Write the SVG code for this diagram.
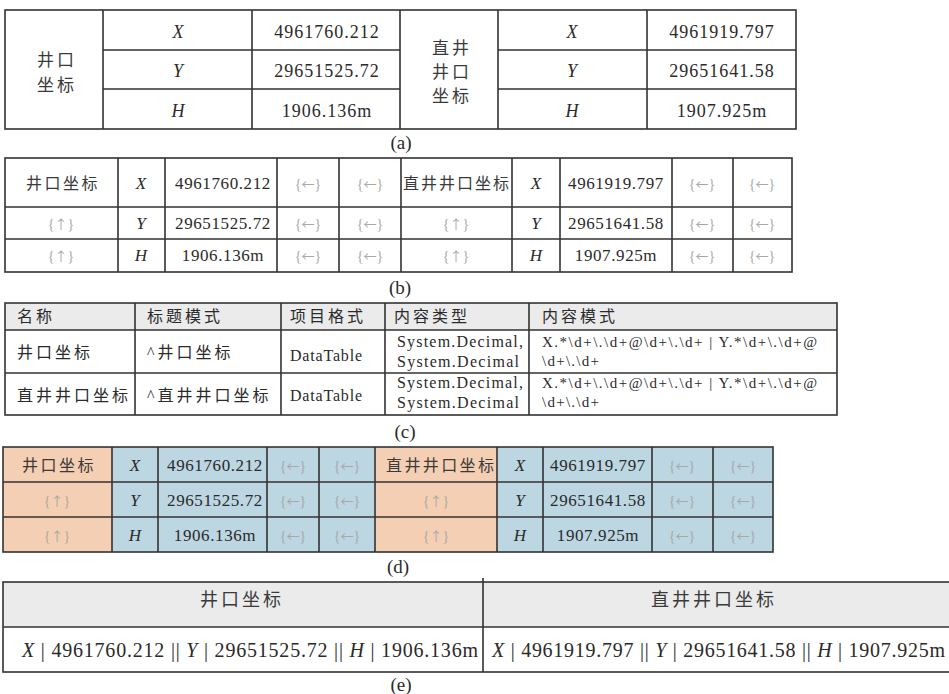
<svg xmlns="http://www.w3.org/2000/svg" width="949" height="694" viewBox="0 0 949 694">
<style>
text{font-family:"Liberation Serif","Noto Sans CJK SC",serif;fill:#2a2a2a}
.c{text-anchor:middle}
.cj{font-size:17px;letter-spacing:3px;fill:#3a3a3a}
.k{fill:#3a3a3a}
.n{font-size:18px;letter-spacing:1px}
.nb{font-size:17px;letter-spacing:0.6px}
.i{font-style:italic;font-size:18px}
.g{fill:#a8a8a8;font-size:14px}
.ar{font-family:"Noto Sans CJK SC",sans-serif;font-size:13px}
.ln{stroke:#333;stroke-width:1.6;fill:none}
.lbl{font-size:19px}
.hd{fill:#ebebeb}
.or{fill:#f5cfb3}
.bl{fill:#bcd6e2}
</style>

<!-- (a) -->
<g id="table-a">
<rect x="5" y="10" width="791" height="119" fill="#fff" class="ln" stroke-width="2"/>
<path class="ln" d="M103 10V129M252 10V129M400 10V129M498 10V129M647 10V129M103 50H400M103 89H400M498 50H796M498 89H796"/>
<text class="cj c" x="57" y="66">井口</text>
<text class="cj c" x="57" y="91">坐标</text>
<text class="i c" x="178" y="38">X</text>
<text class="i c" x="178" y="77">Y</text>
<text class="i c" x="178" y="117">H</text>
<text class="n c" x="327" y="38">4961760.212</text>
<text class="n c" x="327" y="77">29651525.72</text>
<text class="n c" x="327" y="117">1906.136m</text>
<text class="cj c" x="452" y="54">直井</text>
<text class="cj c" x="452" y="78">井口</text>
<text class="cj c" x="452" y="102">坐标</text>
<text class="i c" x="572" y="38">X</text>
<text class="i c" x="572" y="77">Y</text>
<text class="i c" x="572" y="117">H</text>
<text class="n c" x="722" y="38">4961919.797</text>
<text class="n c" x="722" y="77">29651641.58</text>
<text class="n c" x="722" y="117">1907.925m</text>
<text class="lbl c" x="401" y="149">(a)</text>
</g>

<!-- (b) -->
<g id="table-b">
<rect x="5" y="158" width="787" height="114" fill="#fff" class="ln" stroke-width="1.8"/>
<path class="ln" d="M118 158V272M165 158V272M277 158V272M339 158V272M401 158V272M512 158V272M560 158V272M672 158V272M733 158V272M5 207H792M5 239H792"/>
<text class="c k" x="63" y="189" style="font-size:16px;letter-spacing:2.5px">井口坐标</text>
<text class="c g" x="61" y="229">{<tspan class="ar">↑</tspan>}</text>
<text class="c g" x="61" y="261">{<tspan class="ar">↑</tspan>}</text>
<text class="i c" x="141" y="189" style="font-size:17px">X</text>
<text class="i c" x="141" y="229" style="font-size:17px">Y</text>
<text class="i c" x="141" y="261" style="font-size:17px">H</text>
<text class="nb c" x="223" y="189">4961760.212</text>
<text class="nb c" x="223" y="229">29651525.72</text>
<text class="nb c" x="223" y="261">1906.136m</text>
<text class="c g" x="308" y="189">{<tspan class="ar">←</tspan>}</text>
<text class="c g" x="308" y="229">{<tspan class="ar">←</tspan>}</text>
<text class="c g" x="308" y="261">{<tspan class="ar">←</tspan>}</text>
<text class="c g" x="370" y="189">{<tspan class="ar">←</tspan>}</text>
<text class="c g" x="370" y="229">{<tspan class="ar">←</tspan>}</text>
<text class="c g" x="370" y="261">{<tspan class="ar">←</tspan>}</text>
<text class="k" x="403" y="189" style="font-size:16px" textLength="106" lengthAdjust="spacing">直井井口坐标</text>
<text class="c g" x="456" y="229">{<tspan class="ar">↑</tspan>}</text>
<text class="c g" x="456" y="261">{<tspan class="ar">↑</tspan>}</text>
<text class="i c" x="536" y="189" style="font-size:17px">X</text>
<text class="i c" x="536" y="229" style="font-size:17px">Y</text>
<text class="i c" x="536" y="261" style="font-size:17px">H</text>
<text class="nb c" x="616" y="189">4961919.797</text>
<text class="nb c" x="616" y="229">29651641.58</text>
<text class="nb c" x="616" y="261">1907.925m</text>
<text class="c g" x="702" y="189">{<tspan class="ar">←</tspan>}</text>
<text class="c g" x="702" y="229">{<tspan class="ar">←</tspan>}</text>
<text class="c g" x="702" y="261">{<tspan class="ar">←</tspan>}</text>
<text class="c g" x="762" y="189">{<tspan class="ar">←</tspan>}</text>
<text class="c g" x="762" y="229">{<tspan class="ar">←</tspan>}</text>
<text class="c g" x="762" y="261">{<tspan class="ar">←</tspan>}</text>
<text class="lbl c" x="400" y="294">(b)</text>
</g>

<!-- (c) -->
<g id="table-c">
<rect x="5" y="303" width="832" height="112" fill="#fff"/>
<rect x="5" y="303" width="832" height="27" class="hd"/>
<rect x="5" y="303" width="832" height="112" class="ln" stroke-width="1.8"/>
<path class="ln" d="M135 303V415M281 303V415M385 303V415M529 303V415M5 330H837M5 373H837"/>
<g class="k" style="font-size:16px;letter-spacing:3px">
<text x="17" y="322">名称</text>
<text x="147" y="322">标题模式</text>
<text x="290" y="322">项目格式</text>
<text x="394" y="322">内容类型</text>
<text x="542" y="322">内容模式</text>
<text x="17" y="358">井口坐标</text>
<text x="147" y="358">^井口坐标</text>
<text x="17" y="401">直井井口坐标</text>
<text x="147" y="401">^直井井口坐标</text>
</g>
<text x="290" y="361" style="font-size:16px" textLength="72" lengthAdjust="spacing">DataTable</text>
<text x="290" y="401" style="font-size:16px" textLength="72" lengthAdjust="spacing">DataTable</text>
<text x="397" y="347" style="font-size:16px" textLength="126" lengthAdjust="spacing">System.Decimal,</text>
<text x="397" y="367" style="font-size:16px" textLength="122" lengthAdjust="spacing">System.Decimal</text>
<text x="397" y="388" style="font-size:16px" textLength="126" lengthAdjust="spacing">System.Decimal,</text>
<text x="397" y="408" style="font-size:16px" textLength="122" lengthAdjust="spacing">System.Decimal</text>
<text x="542" y="347" style="font-size:15px" textLength="275" lengthAdjust="spacing">X.*\d+\.\d+@\d+\.\d+  |  Y.*\d+\.\d+@</text>
<text x="542" y="366" style="font-size:15px" textLength="57" lengthAdjust="spacing">\d+\.\d+</text>
<text x="542" y="388" style="font-size:15px" textLength="275" lengthAdjust="spacing">X.*\d+\.\d+@\d+\.\d+  |  Y.*\d+\.\d+@</text>
<text x="542" y="407" style="font-size:15px" textLength="57" lengthAdjust="spacing">\d+\.\d+</text>
<text class="lbl c" x="405" y="438">(c)</text>
</g>

<!-- (d) -->
<g id="table-d">
<rect x="3" y="447" width="109" height="105" class="or"/>
<rect x="112" y="447" width="263" height="105" class="bl"/>
<rect x="375" y="447" width="122" height="105" class="or"/>
<rect x="497" y="447" width="276" height="105" class="bl"/>
<rect x="3" y="447" width="770" height="105" class="ln" stroke-width="1.8"/>
<path class="ln" d="M112 447V552M158 447V552M267 447V552M319 447V552M375 447V552M497 447V552M543 447V552M652 447V552M713 447V552M3 482H773M3 517H773"/>
<text class="c k" x="59" y="471" style="font-size:16px;letter-spacing:2.5px">井口坐标</text>
<text class="c g" x="57" y="506">{<tspan class="ar">↑</tspan>}</text>
<text class="c g" x="57" y="541">{<tspan class="ar">↑</tspan>}</text>
<text class="i c" x="135" y="471" style="font-size:17px">X</text>
<text class="i c" x="135" y="506" style="font-size:17px">Y</text>
<text class="i c" x="135" y="541" style="font-size:17px">H</text>
<text class="nb c" x="215" y="471">4961760.212</text>
<text class="nb c" x="215" y="506">29651525.72</text>
<text class="nb c" x="215" y="541">1906.136m</text>
<text class="c g" x="293" y="471">{<tspan class="ar">←</tspan>}</text>
<text class="c g" x="293" y="506">{<tspan class="ar">←</tspan>}</text>
<text class="c g" x="293" y="541">{<tspan class="ar">←</tspan>}</text>
<text class="c g" x="347" y="471">{<tspan class="ar">←</tspan>}</text>
<text class="c g" x="347" y="506">{<tspan class="ar">←</tspan>}</text>
<text class="c g" x="347" y="541">{<tspan class="ar">←</tspan>}</text>
<text class="k" x="386" y="471" style="font-size:16px" textLength="108" lengthAdjust="spacing">直井井口坐标</text>
<text class="c g" x="436" y="506">{<tspan class="ar">↑</tspan>}</text>
<text class="c g" x="436" y="541">{<tspan class="ar">↑</tspan>}</text>
<text class="i c" x="520" y="471" style="font-size:17px">X</text>
<text class="i c" x="520" y="506" style="font-size:17px">Y</text>
<text class="i c" x="520" y="541" style="font-size:17px">H</text>
<text class="nb c" x="598" y="471">4961919.797</text>
<text class="nb c" x="598" y="506">29651641.58</text>
<text class="nb c" x="598" y="541">1907.925m</text>
<text class="c g" x="682" y="471">{<tspan class="ar">←</tspan>}</text>
<text class="c g" x="682" y="506">{<tspan class="ar">←</tspan>}</text>
<text class="c g" x="682" y="541">{<tspan class="ar">←</tspan>}</text>
<text class="c g" x="743" y="471">{<tspan class="ar">←</tspan>}</text>
<text class="c g" x="743" y="506">{<tspan class="ar">←</tspan>}</text>
<text class="c g" x="743" y="541">{<tspan class="ar">←</tspan>}</text>
<text class="lbl c" x="398" y="573">(d)</text>
</g>

<!-- (e) -->
<g id="table-e">
<rect x="3" y="582" width="950" height="90" fill="#fff"/>
<rect x="3" y="582" width="950" height="45" class="hd"/>
<rect x="3" y="582" width="950" height="90" class="ln" stroke-width="1.8"/>
<path class="ln" d="M483 578V672M3 627H949"/>
<text class="c k" x="242" y="606" style="font-size:18px;letter-spacing:3px">井口坐标</text>
<text class="c k" x="714" y="606" style="font-size:18px;letter-spacing:3px">直井井口坐标</text>
<text x="22" y="657" style="font-size:20px" textLength="456" lengthAdjust="spacing"><tspan font-style="italic">X</tspan> | 4961760.212 || <tspan font-style="italic">Y</tspan> | 29651525.72 || <tspan font-style="italic">H</tspan> | 1906.136m</text>
<text x="492" y="657" style="font-size:20px" textLength="453" lengthAdjust="spacing"><tspan font-style="italic">X</tspan> | 4961919.797 || <tspan font-style="italic">Y</tspan> | 29651641.58 || <tspan font-style="italic">H</tspan> | 1907.925m</text>
<text class="lbl c" x="401" y="691">(e)</text>
</g>
</svg>
